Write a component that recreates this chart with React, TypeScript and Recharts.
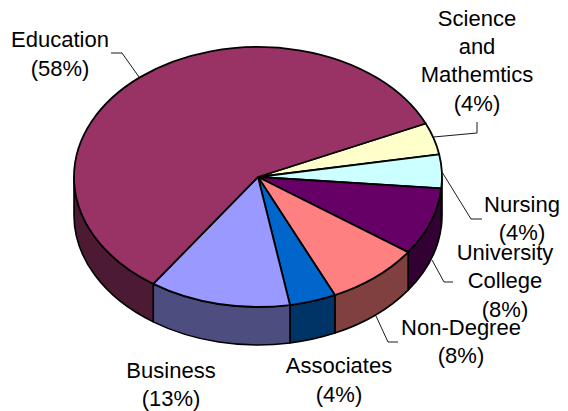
import React from "react";
import { PieChart, Pie } from "recharts";

const categories = ["Science and Mathemtics", "Nursing", "University College", "Non-Degree", "Associates", "Business", "Education"];
const values = [3.97, 4.17, 8.42, 8.33, 4.08, 12.42, 58.61];
const topColors = ["#FFFFCC", "#CCFFFF", "#660066", "#FF8080", "#0066CC", "#9999FF", "#993366"];
const wallColors = ["#808066", "#668080", "#330033", "#804040", "#003366", "#4D4D80", "#4D1A33"];
const labelLines = [
  ["Science", "and", "Mathemtics", "(4%)"],
  ["Nursing", "(4%)"],
  ["University", "College", "(8%)"],
  ["Non-Degree", "(8%)"],
  ["Associates", "(4%)"],
  ["Business", "(13%)"],
  ["Education", "(58%)"],
];

const tableData = categories.map((name, i) => ({ name, value: values[i], fill: topColors[i], wall: wallColors[i] }));

const W = 568, H = 411;
const CX = 258, CY = 177, RX = 184, RY = 130, DEPTH = 38;
const RAD = Math.PI / 180;

// layout of the outside labels: centre x, baselines, leader polyline
const labelLayout = [
  { x: 477, ys: [26, 54, 82, 111], leader: "433.5,137 477,133 477,122" },
  { x: 522, ys: [212, 240], leader: "442,172 471,219 482,219" },
  { x: 505, ys: [260, 288, 317], leader: "432,260 444,282 453,282" },
  { x: 461, ys: [335, 363], leader: "376,316 388,342 398,342" },
  { x: 339, ys: [373, 402], leader: "" },
  { x: 171, ys: [378, 406], leader: "" },
  { x: 60, ys: [47, 76], leader: "139,77 122,53 111,53" },
];

const pt = (a: number, dy = 0) => [CX + RX * Math.cos(a * RAD), CY - RY * Math.sin(a * RAD) + dy];

function EllipticSector(props: any) {
  const { startAngle, endAngle, fill, payload } = props;
  const [sx, sy] = pt(startAngle);
  const [ex, ey] = pt(endAngle);
  const large = Math.abs(startAngle - endAngle) > 180 ? 1 : 0;
  const top = `M${CX},${CY} L${sx},${sy} A${RX},${RY} 0 ${large} 1 ${ex},${ey} Z`;
  // visible wall: part of the sweep on the front half (-180..0)
  const a1 = Math.min(startAngle, 0);
  const a2 = Math.max(endAngle, -180);
  let wall: React.ReactNode = null;
  if (a1 > a2) {
    const [x1, y1] = pt(a1);
    const [x2, y2] = pt(a2);
    const d = `M${x1},${y1} A${RX},${RY} 0 0 1 ${x2},${y2} L${x2},${y2 + DEPTH} A${RX},${RY} 0 0 0 ${x1},${y1 + DEPTH} Z`;
    wall = <path d={d} fill={payload?.wall ?? props.wall} stroke="#000" strokeWidth={1.6} strokeLinejoin="round" />;
  }
  return (
    <g>
      {wall}
      <path d={top} fill={fill} stroke="#000" strokeWidth={1.8} strokeLinejoin="round" />
    </g>
  );
}

function OutsideLabel(props: any) {
  const { index } = props;
  const l = labelLayout[index];
  const lines = labelLines[index];
  return (
    <g>
      {l.leader ? <polyline points={l.leader} fill="none" stroke="#000" strokeWidth={0.9} /> : null}
      <text textAnchor="middle" fontFamily="Liberation Sans, Arial, sans-serif" fontSize={22} fill="#000">
        {lines.map((t, i) => (
          <tspan key={i} x={l.x} y={l.ys[i]}>{t}</tspan>
        ))}
      </text>
    </g>
  );
}

export default function App() {
  return (
    <div style={{ position: "absolute", left: 0, top: 0, width: W, height: H, background: "#fff" }}>
      <PieChart width={W} height={H} margin={{ top: 0, right: 0, bottom: 0, left: 0 }}>
        <Pie
          data={tableData}
          dataKey="value"
          nameKey="name"
          cx={CX}
          cy={CY}
          innerRadius={0}
          outerRadius={RX}
          startAngle={24.3}
          endAngle={-335.7}
          paddingAngle={0}
          isAnimationActive={false}
          shape={EllipticSector}
          label={OutsideLabel}
          labelLine={false}
        />
      </PieChart>
    </div>
  );
}
